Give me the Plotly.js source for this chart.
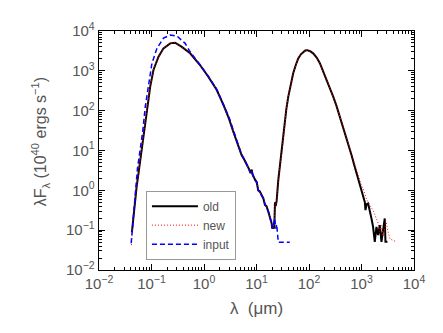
<!DOCTYPE html>
<html><head><meta charset="utf-8">
<script src="https://cdn.plot.ly/plotly-3.0.1.min.js"></script>
<style>html,body{margin:0;padding:0;background:#fff;}#chart{width:443px;height:333px;}</style>
</head><body><div id="chart"></div>
<script>
// "old" model SED (black solid)
const oldX = [0.0424,0.045,0.048,0.052,0.0566,0.061,0.0657,0.0726,0.0818,0.0945,0.109,0.136,0.169,0.227,0.282,0.378,0.544,0.84,1.2,1.75,2.4,3.0,3.6,4.2,4.8,5.2,5.8,6.5,7.2,7.7,8.1,8.4,8.7,9.3,10.1,10.5,10.8,11.5,12.5,13.5,14.5,15.5,16.8,18.0,19.4,20.0,21.0,21.8,22.5,23.2,24.2,26,28,30.5,32.5,34.8,37,40.3,45,50,56,62.4,70,77.6,85,92.5,105,120,140,161,185,216,250,289,335,386,450,519,580,645,720,803,880,950,1000,1072,1155,1191,1250,1336,1439,1549,1662,1790,1927,2069,2230,2400,2573,2773,2860,3120];
const oldY = [0.09,0.22,0.5,1.2,2.7,5.7,12,33,125,400,1050,2260,3670,4900,5080,4000,2750,1400,720,330,130,62,30,17,10.5,7.7,6.0,4.6,3.4,2.7,3.3,2.5,2.2,1.9,1.6,1.2,1.0,0.95,0.75,0.63,0.43,0.4,0.29,0.22,0.15,0.11,0.12,0.11,0.5,0.4,0.55,1.8,4.5,9,22,45,110,225,480,870,1400,2060,2600,3020,3250,3300,3100,2750,2150,1550,1000,590,370,225,130,71,40,22,13,7.7,4.5,2.7,1.6,1.2,0.95,0.69,0.51,0.32,0.45,0.47,0.32,0.197,0.121,0.051,0.121,0.075,0.134,0.051,0.1,0.197,0.051,0.051];

// "new" model SED (red dotted)
const newX = [0.0415,0.0424,0.045,0.048,0.052,0.0566,0.061,0.0657,0.0726,0.0818,0.0945,0.109,0.136,0.169,0.227,0.282,0.378,0.544,0.84,1.2,1.75,2.4,3.0,3.6,4.2,4.8,5.2,5.8,6.5,7.0,7.7,8.1,8.4,8.7,9.3,10.1,10.5,10.8,11.5,12.5,13.5,14.5,15.5,16.8,18.0,19.4,20.0,21.0,21.8,22.5,23.2,24.2,26,28,30.5,32.5,34.8,37,40.3,45,50,56,62.4,70,77.6,85,92.5,105,120,140,161,185,216,250,289,335,386,450,519,580,645,720,803,880,929,1000,1072,1155,1250,1336,1439,1549,1662,1790,1927,2069,2230,2400,2573,2773,2950,3190,3500,4600];
const newY = [0.042,0.08,0.22,0.5,1.2,2.7,5.7,12,33,125,400,1050,2260,3670,4900,5080,4000,2750,1400,720,330,130,62,30,17,10.5,7.7,6.3,4.4,3.6,2.6,3.1,2.6,2.3,1.7,1.5,1.3,1.05,0.85,0.8,0.6,0.47,0.37,0.3,0.2,0.15,0.12,0.11,0.12,0.45,0.42,0.55,1.8,4.5,9,22,45,110,225,480,870,1400,2060,2600,3020,3250,3300,3100,2750,2150,1550,1000,590,370,225,130,71,40,22,13,8,5,3.2,2.2,1.8,1.3,1.1,0.8,0.6,0.51,0.42,0.36,0.32,0.25,0.2,0.15,0.093,0.13,0.07,0.11,0.16,0.093,0.06,0.051];

// "input" SED (blue dashed)
const inputX = [0.041,0.0445,0.049,0.054,0.0595,0.0645,0.0686,0.076,0.0877,0.102,0.127,0.169,0.227,0.304,0.437,0.544,0.7,0.84,1.2,1.75,2.4,3.0,3.6,4.2,4.8,5.2,5.8,6.5,7.2,7.7,8.1,8.4,8.7,9.3,10.1,10.5,10.8,11.5,12.5,13.5,14.5,15.5,16.8,18,19.4,20,21,22,22.5,23.5,24.2,25.3,26,36,43];
const inputY = [0.047,0.2,1.0,3.5,8.6,18,33,125,480,1550,3670,6600,7900,7500,4900,3000,1950,1420,740,345,140,68,33,18.5,11,8,6.2,4.6,3.5,2.8,3.1,2.5,2.2,1.8,1.6,1.2,1.0,0.9,0.75,0.62,0.45,0.38,0.3,0.21,0.15,0.11,0.13,0.2,0.16,0.11,0.14,0.075,0.05,0.05,0.05];

const seriesNames = ['old','new','input'];
const decadeVals = [1e-2,1e-1,1e0,1e1,1e2,1e3,1e4];
const decadeText = ['10<sup>\u22122</sup>','10<sup>\u22121</sup>','10<sup>0</sup>','10<sup>1</sup>','10<sup>2</sup>','10<sup>3</sup>','10<sup>4</sup>'];
const xTitle = '\u03bb  (\u03bcm)';
const yTitle = '\u03bbF<sub>\u03bb</sub> (10<sup>40</sup> ergs s<sup>\u22121</sup>)';

const minorVals = [];
for (let e = -2; e < 4; e++) for (let d = 2; d <= 9; d++) minorVals.push(d * Math.pow(10, e));

const traces = [
  {x: oldX, y: oldY, name: seriesNames[0], mode: 'lines', line: {color: '#000000', width: 2}},
  {x: newX, y: newY, name: seriesNames[1], mode: 'lines', line: {color: '#ff0000', width: 1, dash: '1px,2px'}},
  {x: inputX, y: inputY, name: seriesNames[2], mode: 'lines', line: {color: '#0000ff', width: 1.5, dash: '5px,3px'}}
];

const fam = 'Liberation Sans, Arial, sans-serif';
const tickFont = {family: fam, size: 15, color: '#555555'};
function axis(extra) {
  return Object.assign({
    type: 'log', range: [-2, 4],
    tickmode: 'array', tickvals: decadeVals, ticktext: decadeText,
    ticks: 'inside', ticklen: 6, tickwidth: 1, tickcolor: '#000',
    minor: {tickmode: 'array', tickvals: minorVals, ticks: 'inside', ticklen: 3, tickwidth: 1, tickcolor: '#000', showgrid: false},
    showline: true, linecolor: '#000', linewidth: 1.3, mirror: 'ticks',
    showgrid: false, zeroline: false, tickfont: tickFont, automargin: false
  }, extra);
}

const layout = {
  width: 443, height: 333,
  margin: {l: 99, r: 29, t: 31, b: 63},
  paper_bgcolor: '#fff', plot_bgcolor: '#fff',
  showlegend: true,
  legend: {x: 0.149, y: 0.332, xanchor: 'left', yanchor: 'top', bgcolor: '#fff',
           bordercolor: '#999', borderwidth: 1, font: {family: fam, size: 12, color: '#555'},
           itemwidth: 46, tracegroupgap: 0},
  xaxis: axis({title: {text: xTitle, font: {family: fam, size: 17, color: '#555'}, standoff: 10}}),
  yaxis: axis({}),
  annotations: [{
    text: yTitle, textangle: -90, showarrow: false,
    xref: 'paper', yref: 'paper', x: -0.186, y: 0.54, xanchor: 'center', yanchor: 'middle',
    font: {family: fam, size: 16, color: '#555'}
  }]
};

Plotly.newPlot('chart', traces, layout, {staticPlot: true, displayModeBar: false});
</script>
</body></html>
